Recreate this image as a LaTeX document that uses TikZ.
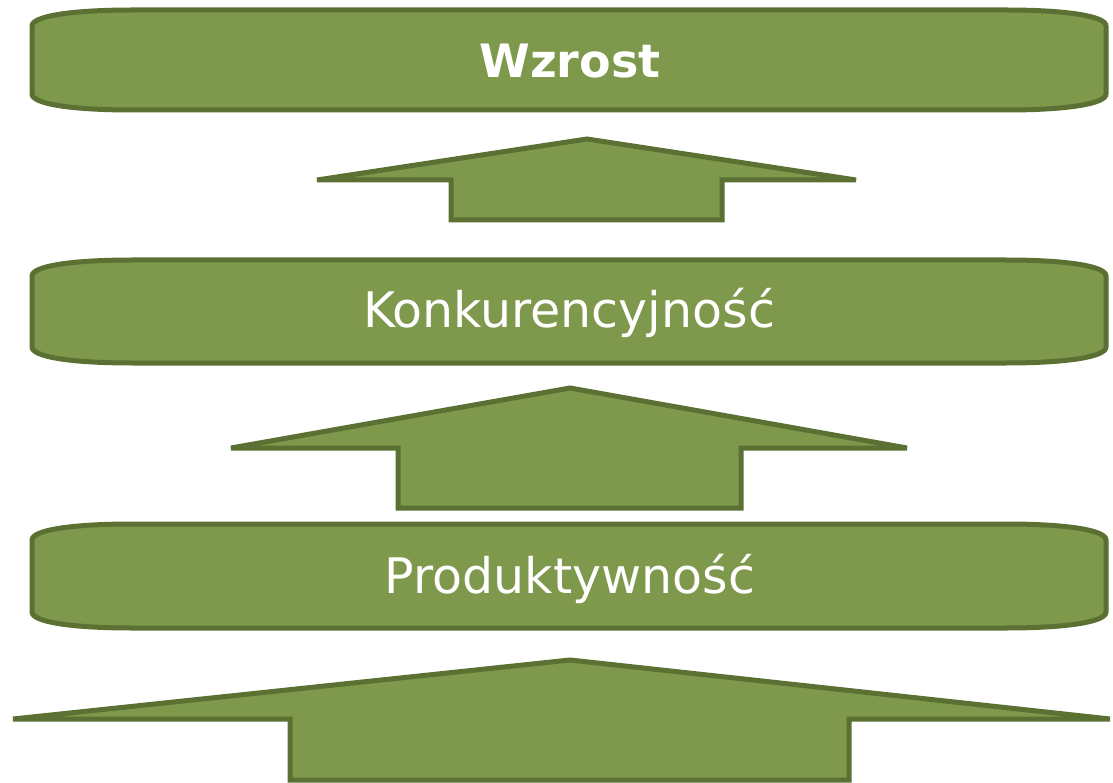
\documentclass[tikz,border=0pt]{standalone}
\usepackage{fontspec}
\setmainfont{DejaVu Sans}
\definecolor{gfill}{HTML}{7E994B}
\definecolor{gline}{HTML}{5B7033}
\tikzset{
  shapestyle/.style={fill=gfill, draw=gline, line width=5pt, line join=miter},
  lbl/.style={text=white, inner sep=0pt, anchor=base, font=\fontsize{49}{52}\selectfont},
}
\newcommand{\greenbox}[4]{% x1 y1 x2 y2
  \draw[shapestyle] (#1,#2+16) .. controls (#1,#2+6) and (#1+40,#2) .. (#1+100,#2)
    -- (#3-100,#2) .. controls (#3-40,#2) and (#3,#2+6) .. (#3,#2+16)
    -- (#3,#4-16) .. controls (#3,#4-6) and (#3-40,#4) .. (#3-100,#4)
    -- (#1+100,#4) .. controls (#1+40,#4) and (#1,#4-6) .. (#1,#4-16) -- cycle;
}
\begin{document}
\begin{tikzpicture}[x=1pt,y=-1pt]
\useasboundingbox (0,0) rectangle (1113,783);
\greenbox{32}{10}{1106}{110}
\greenbox{32}{260}{1106}{363}
\greenbox{32}{524}{1106}{628}
% arrows
\draw[shapestyle] (587,139) -- (856,180) -- (722,180) -- (722,220) -- (451,220) -- (451,180) -- (317,180) -- cycle;
\draw[shapestyle] (570,388) -- (907,448) -- (741,448) -- (741,508) -- (398,508) -- (398,448) -- (231,448) -- cycle;
\draw[shapestyle] (570,660) -- (1110,719) -- (849,719) -- (849,780) -- (290,780) -- (290,719) -- (13,719) -- cycle;
\node[lbl, font=\fontsize{46}{50}\selectfont\bfseries] (wzrost) at (570,78) {Wzrost};
\node[lbl] (konk) at (569,328) {Konkurencyjność};
\node[lbl] (prod) at (570,593) {Produktywność};
\end{tikzpicture}
\end{document}
